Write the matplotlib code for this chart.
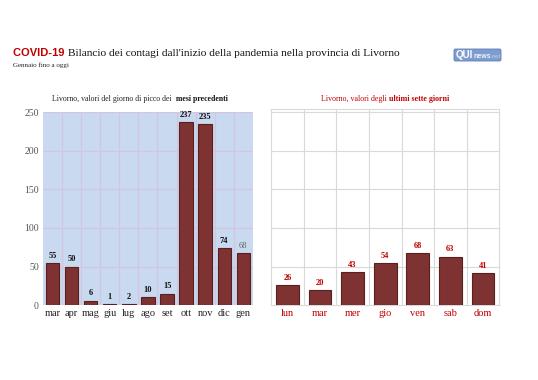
import matplotlib
matplotlib.use("Agg")
import matplotlib.pyplot as plt
from matplotlib.patches import FancyBboxPatch

months = ["mar", "apr", "mag", "giu", "lug", "ago", "set", "ott", "nov", "dic", "gen"]
month_values = [55, 50, 6, 1, 2, 10, 15, 237, 235, 74, 68]
days = ["lun", "mar", "mer", "gio", "ven", "sab", "dom"]
day_values = [26, 20, 43, 54, 68, 63, 41]
y_ticks = [0, 50, 100, 150, 200, 250]

SERIF = "Liberation Serif"
NARROW = ["Liberation Sans Narrow", "Liberation Sans", "DejaVu Sans"]
BAR = "#7e3232"
EDGE = "#5a1f1f"
RED = "#c00000"

fig = plt.figure(figsize=(5.38, 3.80), dpi=100)
fig.patch.set_facecolor("white")

# Left panel
ax1 = fig.add_axes([0.080, 0.197, 0.390, 0.508])
ax1.set_facecolor("#c8d9f0")
x1 = range(len(months))
ax1.bar(x1, month_values, width=0.7, color=BAR, edgecolor=EDGE, linewidth=0.8, zorder=3)
ax1.set_xlim(-0.5, len(months) - 0.5)
ax1.set_ylim(0, 250)
ax1.set_yticks(y_ticks)
ax1.set_yticklabels([str(t) for t in y_ticks], fontfamily=SERIF, fontsize=7, color="#555555")
ax1.set_xticks(list(x1))
ax1.set_xticklabels(months, fontfamily=SERIF, fontsize=7.5, color="#222222")
ax1.tick_params(length=0, pad=3)
for t in y_ticks[1:]:
    ax1.axhline(t, color="#d4c4dc", linewidth=0.8, zorder=1)
for i in range(len(months) - 1):
    ax1.axvline(i + 0.5, color="#d4c4dc", linewidth=0.8, zorder=1)
for s in ax1.spines.values():
    s.set_visible(False)
ax1.axhline(0, color="#d4c4dc", linewidth=0.8, zorder=1)
for i, v in enumerate(month_values):
    last = i == len(month_values) - 1
    ax1.text(i, v + 4, str(v), ha="center", va="bottom", fontfamily=SERIF, fontsize=6,
             fontweight="normal" if last else "bold", color="#666666" if last else "#111111")

# Right panel
ax2 = fig.add_axes([0.504, 0.197, 0.424, 0.516])
ax2.set_facecolor("white")
x2 = range(len(days))
ax2.bar(x2, day_values, width=0.7, color=BAR, edgecolor=EDGE, linewidth=0.8, zorder=3)
ax2.set_xlim(-0.5, len(days) - 0.5)
ax2.set_ylim(0, 254)
ax2.set_yticks([])
ax2.set_xticks(list(x2))
ax2.set_xticklabels(days, fontfamily=SERIF, fontsize=7.5, color=RED)
ax2.tick_params(length=0, pad=3)
for t in y_ticks[1:]:
    ax2.axhline(t, color="#d9d9d9", linewidth=0.8, zorder=1)
for i in range(len(days) - 1):
    ax2.axvline(i + 0.5, color="#d9d9d9", linewidth=0.8, zorder=1)
for s in ax2.spines.values():
    s.set_color("#d9d9d9")
    s.set_linewidth(0.8)
for i, v in enumerate(day_values):
    ax2.text(i, v + 4, str(v), ha="center", va="bottom", fontfamily=SERIF, fontsize=6,
             fontweight="bold", color=RED)

# Titles
fig.canvas.draw()
r = fig.canvas.get_renderer()

def chain(x, y, parts, ha_center=None):
    objs = []
    cx = x
    for txt, kw in parts:
        t = fig.text(cx, y, txt, transform=None, va="baseline", **kw)
        bb = t.get_window_extent(renderer=r)
        cx = bb.x1
        objs.append(t)
    if ha_center is not None:
        total = cx - x
        shift = ha_center - total / 2 - x
        for t in objs:
            px, py = t.get_position()
            t.set_position((px + shift, py))
    return objs

H = 380
chain(13, H - 56, [("COVID-19 ", dict(family=NARROW, fontweight="bold", fontsize=8, color=RED)),
                  ("Bilancio dei contagi dall'inizio della pandemia nella provincia di Livorno",
                   dict(fontfamily=SERIF, fontsize=8.2, color="#111111"))])
fig.text(13, H - 67, "Gennaio fino a oggi", transform=None, fontfamily=SERIF, fontsize=5,
         color="#222222", va="baseline")

chain(0, H - 101, [("Livorno, valori del giorno di picco dei  ", dict(fontfamily=SERIF, fontsize=5.6, color="#222222")),
                   ("mesi precedenti", dict(fontfamily=SERIF, fontsize=5.6, fontweight="bold", color="#111111"))],
      ha_center=140)
chain(0, H - 101, [("Livorno, valori degli ", dict(fontfamily=SERIF, fontsize=5.7, color=RED)),
                   ("ultimi sette giorni", dict(fontfamily=SERIF, fontsize=5.7, fontweight="bold", color=RED))],
      ha_center=385)

# Logo
box = FancyBboxPatch((454, H - 61), 47, 12, boxstyle="round,pad=0,rounding_size=1.5",
                     transform=None, facecolor="#7d9ccf", edgecolor="#5d7db5", linewidth=0.6)
fig.patches.append(box)
chain(456, H - 58, [("QUI", dict(family=NARROW, fontweight="bold", fontsize=7, color="white")),
                    ("news", dict(family=NARROW, fontweight="bold", fontsize=5, color="#f0f4fb")),
                    (".net", dict(family=NARROW, fontsize=4.5, color="#c4d2ec"))])

fig.savefig("out.png", dpi=100)
